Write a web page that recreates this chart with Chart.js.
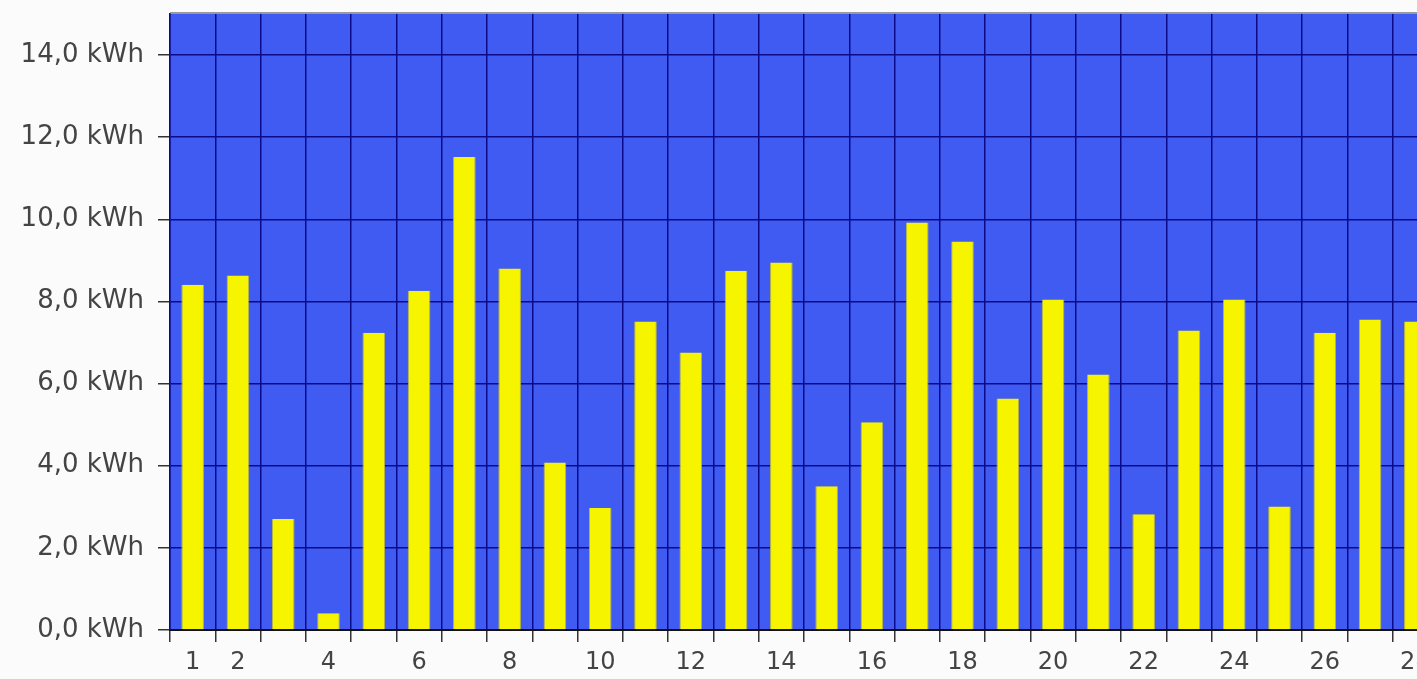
<!DOCTYPE html>
<html>
<head>
<meta charset="utf-8">
<script src="https://cdn.jsdelivr.net/npm/chart.js@4.4.1/dist/chart.umd.min.js"></script>
<style>
    html, body { margin: 0; padding: 0; background: #fbfbfb; overflow: hidden; }
    #wrap { position: absolute; left: 0; top: 0; width: 1439px; height: 679px; }
</style>
</head>
<body>
<div id="wrap"><canvas id="chart" width="1439" height="679"></canvas></div>
<script>
    // Tage und Tageswerte (kWh)
    const days = ['1','2','3','4','5','6','7','8','9','10','11','12','13','14','15','16','17','18','19','20','21','22','23','24','25','26','27','28'];
    const energy = [8.41, 8.63, 2.70, 0.41, 7.24, 8.26, 11.52, 8.80, 4.08, 2.97, 7.51, 6.76, 8.75, 8.95, 3.50, 5.06, 9.92, 9.46, 5.64, 8.05, 6.22, 2.82, 7.29, 8.05, 3.01, 7.24, 7.56, 7.51];
    const yTicks = [0, 2, 4, 6, 8, 10, 12, 14];

    // Blauer Hintergrund im Plotbereich
    const plotBackground = {
        id: 'plotBackground',
        beforeDraw(chart) {
            const a = chart.chartArea;
            const ctx = chart.ctx;
            ctx.save();
            ctx.fillStyle = '#3f5bf2';
            ctx.fillRect(a.left, a.top, a.right - a.left, a.bottom - a.top);
            ctx.strokeStyle = '#9a9a9a';
            ctx.lineWidth = 2;
            ctx.beginPath();
            ctx.moveTo(a.left, a.top - 1);
            ctx.lineTo(a.right, a.top - 1);
            ctx.stroke();
            ctx.restore();
        }
    };

    new Chart(document.getElementById('chart').getContext('2d'), {
        type: 'bar',
        data: {
            labels: days,
            datasets: [{
                data: energy,
                backgroundColor: '#f7f400',
                borderColor: '#b8b640',
                borderWidth: { left: 1, right: 1, top: 0, bottom: 0 },
                barPercentage: 0.5,
                categoryPercentage: 1.0
            }]
        },
        options: {
            responsive: false,
            animation: false,
            layout: { padding: { top: 14, right: 1, left: 0, bottom: 0 } },
            plugins: { legend: { display: false }, tooltip: { enabled: false } },
            scales: {
                x: {
                    offset: true,
                    grid: {
                        offset: true,
                        color: '#0a0a8a',
                        lineWidth: 1.5,
                        tickLength: 12,
                        tickColor: '#333333'
                    },
                    border: { display: true, color: '#111111', width: 2 },
                    ticks: {
                        autoSkip: false,
                        maxRotation: 0,
                        color: '#444444',
                        padding: 6,
                        font: { family: 'DejaVu Sans', size: 24 },
                        callback: function (value, index) {
                            const d = index + 1;
                            return (d === 1 || d % 2 === 0) ? days[index] : '';
                        }
                    },
                    afterFit(scale) {
                        scale.height = 49;
                        scale.paddingLeft = 0;
                        scale.paddingRight = 0;
                    }
                },
                y: {
                    min: 0,
                    max: 15,
                    grid: {
                        color: '#0a0a8a',
                        lineWidth: 1.5,
                        tickLength: 12,
                        tickColor: '#333333'
                    },
                    border: { display: true, color: '#0a0a8a', width: 1.5 },
                    ticks: {
                        stepSize: 2,
                        color: '#444444',
                        padding: 14,
                        font: { family: 'DejaVu Sans', size: 26 },
                        callback: v => v.toFixed(1).replace('.', ',') + ' kWh'
                    },
                    afterBuildTicks(scale) {
                        scale.ticks = yTicks.map(v => ({ value: v }));
                    },
                    afterFit(scale) {
                        scale.width = 170;
                        scale.paddingTop = 0;
                        scale.paddingBottom = 0;
                    }
                }
            }
        },
        plugins: [plotBackground]
    });
</script>
</body>
</html>
